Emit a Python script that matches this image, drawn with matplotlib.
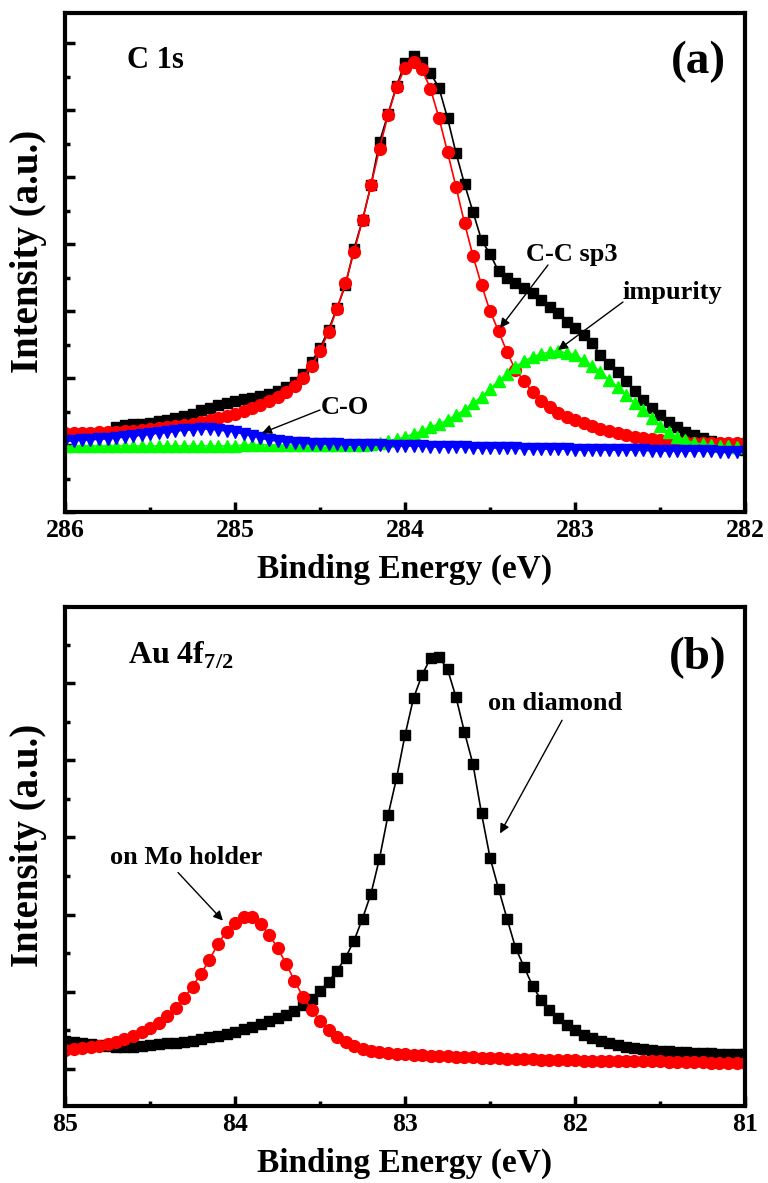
import numpy as np
import matplotlib
matplotlib.use("Agg")
import matplotlib.pyplot as plt
from matplotlib.ticker import MultipleLocator

plt.rcParams["font.family"] = ["Liberation Serif", "DejaVu Serif"]
plt.rcParams["font.weight"] = "bold"
plt.rcParams["mathtext.fontset"] = "custom"
plt.rcParams["mathtext.rm"] = "Liberation Serif:bold"
plt.rcParams["mathtext.bf"] = "Liberation Serif:bold"

# --- (a) C 1s: binding energy grid, 0.05 eV step ---
c1s_energy = np.linspace(286.0, 282.0, 81)

# measured spectrum (starts at 285.70 eV)
c1s_raw = [
    85, 87, 88, 88, 89, 91, 92, 94, 96, 98,
    102, 104, 107, 109, 111, 113, 114, 116, 118, 121,
    125, 130, 138, 150, 164, 182, 204, 227, 263, 292,
    327, 370, 398, 426, 449, 456, 450, 439, 424, 394,
    359, 328, 300, 272, 258, 241, 234, 229, 224, 219,
    212, 205, 199, 190, 184, 177, 169, 157, 148, 140,
    131, 121, 112, 104, 97, 90, 85, 80, 77, 74,
    71, 68, 66, 64, 62,
]
c1s_sp3 = [
    79, 79, 79, 79, 80, 80, 80, 81, 81, 82,
    83, 84, 85, 86, 87, 88, 90, 92, 94, 96,
    98, 101, 104, 107, 111, 115, 120, 126, 134, 146,
    161, 180, 203, 229, 260, 292, 327, 363, 397, 425,
    444, 450, 443, 423, 394, 360, 325, 289, 256, 227,
    201, 181, 160, 142, 131, 120, 111, 105, 99, 95,
    92, 89, 86, 83, 81, 79, 77, 75, 74, 73,
    72, 71, 70, 70, 69, 69, 69, 69, 69, 69,
    69,
]
c1s_impurity = [
    66, 66, 66, 66, 66, 66, 66, 66, 66, 66,
    66, 66, 66, 66, 66, 66, 66, 66, 66, 66,
    66, 67, 67, 67, 67, 67, 67, 67, 67, 67,
    67, 67, 67, 67, 67, 67, 68, 69, 71, 73,
    75, 78, 81, 85, 88, 92, 97, 102, 109, 115,
    123, 131, 138, 145, 151, 155, 158, 160, 161, 159,
    157, 152, 146, 140, 132, 125, 117, 109, 102, 94,
    86, 80, 75, 72, 69, 68, 67, 66, 66, 65,
    65,
]
c1s_co = [
    71, 71, 72, 72, 73, 73, 74, 75, 76, 77,
    78, 79, 80, 81, 82, 82, 83, 83, 82, 81,
    80, 78, 76, 74, 72, 71, 70, 69, 69, 68,
    68, 68, 68, 67, 67, 67, 67, 67, 66, 66,
    66, 66, 66, 65, 65, 65, 65, 65, 64, 64,
    64, 64, 64, 64, 63, 63, 63, 63, 63, 63,
    62, 62, 62, 62, 62, 62, 62, 62, 62, 61,
    61, 61, 61, 61, 61, 61, 61, 60, 60, 60,
    60,
]

# --- (b) Au 4f7/2 ---
au_energy = np.linspace(85.0, 81.0, 81)
au_diamond = [
    28, 27, 26, 25, 24, 23, 22, 22, 22, 23,
    24, 25, 26, 26, 27, 28, 30, 32, 33, 35,
    37, 40, 42, 45, 48, 51, 54, 58, 64, 70,
    78, 87, 98, 111, 128, 150, 175, 210, 253, 290,
    333, 370, 393, 410, 411, 399, 371, 336, 304, 255,
    211, 180, 150, 121, 102, 83, 69, 59, 51, 44,
    39, 34, 31, 28, 26, 24, 22, 21, 20, 19,
    18, 18, 17, 17, 16, 16, 16, 15, 15, 15,
    15,
]
au_mo = [
    19, 20, 21, 22, 23, 25, 27, 30, 33, 37,
    41, 46, 53, 61, 71, 82, 95, 109, 125, 137,
    146, 152, 152, 145, 134, 121, 105, 88, 72, 59,
    48, 39, 32, 27, 23, 20, 18, 17, 16, 15,
    15, 14, 14, 13, 13, 13, 12, 12, 12, 11,
    11, 11, 10, 10, 10, 10, 9, 9, 9, 9,
    9, 8, 8, 8, 8, 8, 8, 8, 8, 8,
    8, 7, 7, 7, 7, 7, 6, 6, 6, 6,
    6,
]

W, H = 768, 1183
fig = plt.figure(figsize=(W / 100, H / 100), dpi=100)
ax_a = fig.add_axes([65 / W, 1 - 512 / H, 680 / W, 499 / H])
ax_b = fig.add_axes([65 / W, 1 - 1106 / H, 680 / W, 499 / H])

ARROW = dict(arrowstyle="-|>", color="black", lw=1.0, mutation_scale=14,
             shrinkA=0, shrinkB=0)


def style_axes(ax):
    for sp in ax.spines.values():
        sp.set_linewidth(3)
    ax.tick_params(which="both", direction="in", top=False, right=False,
                   labelsize=18.5, pad=5)
    ax.tick_params(which="major", length=7, width=2.5)
    ax.tick_params(which="minor", length=3.5, width=2.5)
    ax.tick_params(axis="y", labelleft=False)
    ax.xaxis.set_major_locator(MultipleLocator(1))
    ax.xaxis.set_minor_locator(MultipleLocator(0.5))
    ax.set_xlabel("Binding Energy (eV)", fontsize=24, fontweight="bold")
    ax.set_ylabel("Intensity (a.u.)", fontsize=28, fontweight="bold")
    ax.xaxis.set_label_coords(0.5, -0.083)
    ax.yaxis.set_label_coords(-0.027, 0.523)


# panel (a)
ax_a.plot(c1s_energy[6:], c1s_raw, "-s", color="black", lw=1.2, ms=7)
ax_a.plot(c1s_energy, c1s_sp3, "-o", color="#ff0000", lw=1.2, ms=8.5)
ax_a.plot(c1s_energy, c1s_impurity, "-^", color="#00ff00", lw=1.2, ms=8)
ax_a.plot(c1s_energy, c1s_co, "-v", color="#0000ff", lw=1.2, ms=8)
ax_a.set_xlim(286, 282)
ax_a.set_ylim(0, 499)
ax_a.yaxis.set_major_locator(MultipleLocator(67))
ax_a.yaxis.set_minor_locator(MultipleLocator(33.5))
style_axes(ax_a)

ax_a.text(285.635, 452, "C 1s", fontsize=22, ha="left", va="center")
ax_a.text(282.276, 450, "(a)", fontsize=34, ha="center", va="center")
ax_a.text(283.018, 257, "C-C sp3", fontsize=19, ha="center", va="center")
ax_a.annotate("", xy=(283.441, 184), xytext=(283.159, 247), arrowprops=ARROW)
ax_a.text(282.429, 219, "impurity", fontsize=19, ha="center", va="center")
ax_a.annotate("", xy=(283.1, 162), xytext=(282.718, 210), arrowprops=ARROW)
ax_a.text(284.353, 105, "C-O", fontsize=19, ha="center", va="center")
ax_a.annotate("", xy=(284.841, 79), xytext=(284.5, 102), arrowprops=ARROW)

# panel (b)
ax_b.plot(au_energy, au_diamond, "-s", color="black", lw=1.2, ms=6.5)
ax_b.plot(au_energy, au_mo, "-o", color="#ff0000", lw=1.2, ms=8.5)
ax_b.set_xlim(85, 81)
ax_b.set_ylim(-37, 461)
ax_b.yaxis.set_major_locator(MultipleLocator(77))
ax_b.yaxis.set_minor_locator(MultipleLocator(38.5))
style_axes(ax_b)

ax_b.text(84.629, 413, r"Au 4f$_{\mathbf{7/2}}$", fontsize=23, ha="left", va="center")
ax_b.text(81.276, 410, "(b)", fontsize=34, ha="center", va="center")
ax_b.text(82.118, 365, "on diamond", fontsize=19, ha="center", va="center")
ax_b.annotate("", xy=(82.441, 235), xytext=(82.076, 348), arrowprops=ARROW)
ax_b.text(84.288, 211, "on Mo holder", fontsize=19, ha="center", va="center")
ax_b.annotate("", xy=(84.071, 148), xytext=(84.335, 196), arrowprops=ARROW)

fig.savefig("out.png", dpi=100)
